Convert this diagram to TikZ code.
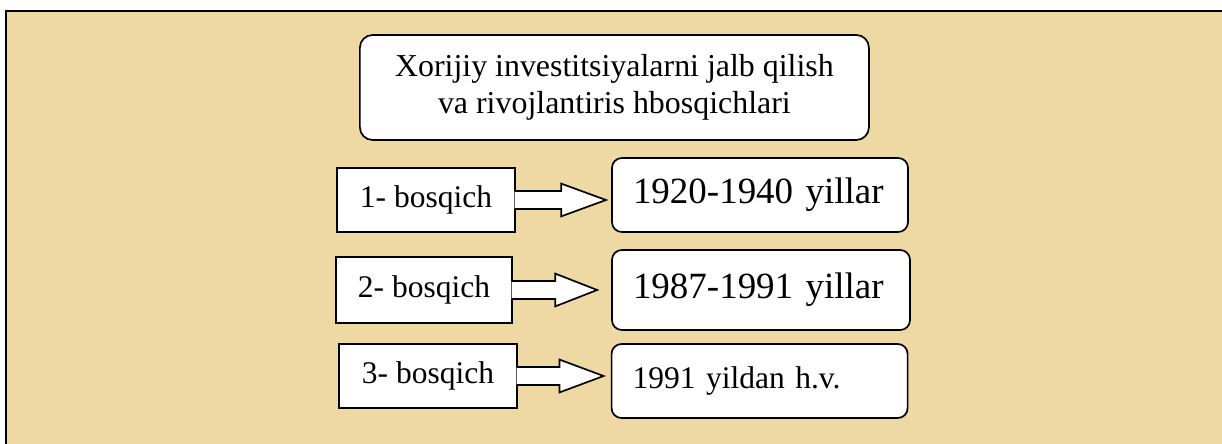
\documentclass[tikz,border=0pt]{standalone}
\usepackage{fontspec}
\setmainfont{Liberation Serif}
\definecolor{papyrus}{RGB}{238, 216, 163}
\usepackage{tikz}
\usetikzlibrary{positioning, calc}

\begin{document}
\begin{tikzpicture}[
  stagebox/.style={draw=black, fill=white, line width=1.2pt, minimum width=4.45cm, minimum height=1.6cm, inner sep=0pt, font=\fontsize{22.4}{26}\selectfont},
  yearbox/.style={draw=black, fill=white, line width=1.2pt, rounded corners=7pt, minimum height=1.85cm, text width=6.35cm, align=left, inner xsep=0.525cm, inner ysep=0pt, font=\fontsize{26.3}{30}\selectfont},
  blockarr/.style={draw=black, fill=white, line width=1.2pt, line join=miter},
]
  \useasboundingbox (0,0) rectangle (30.55,11.075);

  % Background
  \fill[papyrus] (0.14,-0.2) rectangle (30.8,10.81);
  \draw[line width=1.4pt] (0.14,-0.2) -- (0.14,10.81) -- (30.8,10.81);

  % Title
  \node[draw=black, fill=white, line width=1.2pt, rounded corners=9pt, minimum width=12.725cm, minimum height=2.625cm, align=center, inner sep=0pt, font=\fontsize{22.7}{26.3}\selectfont] (title) at (15.36, 8.8875) {Xorijiy investitsiyalarni jalb qilish\\va rivojlantiris hbosqichlari};

  % Stages
  \node[stagebox] (b1) at (10.65, 6.075) {1- bosqich};
  \node[stagebox, minimum width=4.4cm, minimum height=1.65cm] (b2) at (10.6, 3.825) {2- bosqich};
  \node[stagebox] (b3) at (10.7, 1.675) {3- bosqich};

  % Years
  \node[yearbox] (r1) at (19.0, 6.2) {\mbox{1920-1940 yillar}};
  \node[yearbox, minimum height=2cm, text width=6.4cm] (r2) at (19.025, 3.825) {\mbox{1987-1991 yillar}};
  \node[yearbox, font=\fontsize{22.4}{26}\selectfont] (r3) at (18.99, 1.55) {1991 yildan h.v.};

  % Block arrows
  \coordinate (t1) at (b1.east -| r1.west);
  \coordinate (t2) at (b2.east -| r2.west);
  \coordinate (t3) at (b3.east -| r3.west);
  \filldraw[blockarr] ($(b1.east)+(-0.03,0.225)$) -- ($(t1)+(-1.25,0.225)$) -- ($(t1)+(-1.25,0.41)$) -- ($(t1)+(-0.13,0)$) -- ($(t1)+(-1.25,-0.41)$) -- ($(t1)+(-1.25,-0.225)$) -- ($(b1.east)+(-0.03,-0.225)$);
  \filldraw[blockarr] ($(b2.east)+(-0.03,0.225)$) -- ($(t2)+(-1.4,0.225)$) -- ($(t2)+(-1.4,0.41)$) -- ($(t2)+(-0.35,0)$) -- ($(t2)+(-1.4,-0.41)$) -- ($(t2)+(-1.4,-0.225)$) -- ($(b2.east)+(-0.03,-0.225)$);
  \filldraw[blockarr] ($(b3.east)+(-0.03,0.225)$) -- ($(t3)+(-1.28,0.225)$) -- ($(t3)+(-1.28,0.41)$) -- ($(t3)+(-0.18,0)$) -- ($(t3)+(-1.28,-0.41)$) -- ($(t3)+(-1.28,-0.225)$) -- ($(b3.east)+(-0.03,-0.225)$);
\end{tikzpicture}
\end{document}
